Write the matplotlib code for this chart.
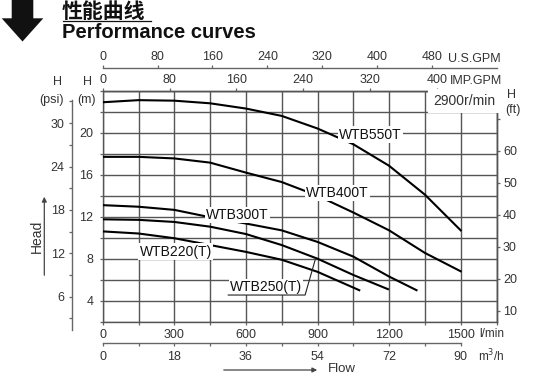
#!/usr/bin/env python3
"""Pump performance curves (WTB series, 2900 r/min)."""

import matplotlib

matplotlib.use("Agg")
import matplotlib.pyplot as plt
from matplotlib.patches import Polygon
from matplotlib.ticker import MultipleLocator, FixedLocator, NullFormatter

plt.rcParams.update(
    {
        "font.family": ["Liberation Sans", "DejaVu Sans"],
        "font.size": 9,
        "axes.linewidth": 1.0,
    }
)

W, H = 554, 376
GRID = "#555555"
TXT = "#333333"
AXL = "#666666"

# flow in l/min, head in m
q_550 = [0, 150, 300, 450, 600, 750, 900, 1050, 1200, 1350, 1500]
h_550 = [22.9, 23.1, 23.05, 22.8, 22.3, 21.6, 20.4, 18.9, 16.85, 14.1, 10.7]

q_400 = [0, 150, 300, 450, 600, 750, 900, 1050, 1200, 1350, 1500]
h_400 = [17.7, 17.7, 17.55, 17.15, 16.2, 15.3, 14.0, 12.4, 10.7, 8.55, 6.8]

q_300 = [0, 150, 300, 450, 600, 750, 900, 1050, 1200, 1315]
h_300 = [13.1, 12.95, 12.65, 11.95, 11.35, 10.7, 9.6, 8.2, 6.3, 5.0]

q_250 = [0, 150, 300, 450, 600, 750, 900, 1050, 1195]
h_250 = [11.75, 11.7, 11.5, 11.05, 10.35, 9.3, 8.0, 6.45, 5.1]

q_220 = [0, 150, 300, 450, 600, 750, 900, 1075]
h_220 = [10.6, 10.4, 9.95, 9.3, 8.65, 7.9, 6.75, 5.0]

curves = [
    (q_550, h_550, "WTB550T", (990, 19.8)),
    (q_400, h_400, "WTB400T", (852, 14.26)),
    (q_300, h_300, "WTB300T", (434, 12.16)),
    (q_220, h_220, "WTB220(T)", (154, 8.67)),
]

flow_ticks = [0, 300, 600, 900, 1200, 1500]
m_ticks = [4, 8, 12, 16, 20]
imp_ticks = [0, 80, 160, 240, 320, 400]
us_ticks = [0, 80, 160, 240, 320, 400, 480]
m3h_ticks = [0, 18, 36, 54, 72, 90]
psi_ticks = [6, 12, 18, 24, 30]
ft_ticks = [10, 20, 30, 40, 50, 60, 70]
ft_labels = ["10", "20", "30", "40", "50", "60", ""]


def px(x, y):
    return x / W, 1 - y / H


def style_ticks(axis, length=2.2, pad=2.5):
    axis.set_tick_params(which="both", direction="out", length=length, width=0.9,
                         color=AXL, labelcolor=TXT, labelsize=9, pad=pad)


def main():
    fig = plt.figure(figsize=(W / 100, H / 100), dpi=100)
    ax = fig.add_axes([102.7 / W, 1 - 321.7 / H, (496.5 - 102.7) / W, (321.7 - 90.7) / H])

    ax.set_xlim(0, 1650)
    ax.set_ylim(2, 24)
    ax.xaxis.set_major_locator(FixedLocator(flow_ticks))
    ax.xaxis.set_minor_locator(MultipleLocator(150))
    ax.yaxis.set_major_locator(FixedLocator(m_ticks))
    ax.yaxis.set_minor_locator(MultipleLocator(2))
    ax.grid(True, which="both", color=GRID, linewidth=1.0)
    ax.set_axisbelow(True)
    for sp in ax.spines.values():
        sp.set_color(GRID)
    ax.tick_params(top=False, right=False)
    style_ticks(ax.xaxis, pad=3.2)
    style_ticks(ax.yaxis, pad=4.5)

    for q, h, name, (lx, ly) in curves:
        ax.plot(q, h, color="black", linewidth=1.5, zorder=3)
        ax.text(lx, ly, name, fontsize=10, va="center", ha="left", color="#111111", zorder=4,
                bbox=dict(facecolor="white", edgecolor="none", pad=1.0))
    ax.plot(q_250, h_250, color="black", linewidth=1.5, zorder=3)
    ax.text(533, 5.3, "WTB250(T)", fontsize=10, va="center", ha="left", color="#111111",
            zorder=4, bbox=dict(facecolor="white", edgecolor="none", pad=1.0))
    ax.plot([526, 848, 890], [4.54, 4.54, 7.87], color="#222222", linewidth=0.8, zorder=4)

    ax.text(1645, 23.0, "2900r/min", fontsize=10, va="center", ha="right", color=TXT,
            zorder=4, bbox=dict(facecolor="white", edgecolor="none", pad=3.5))

    # top axes: IMP.GPM on the frame, U.S.GPM above it
    imp = ax.secondary_xaxis("top", functions=(lambda q: q / 3.5, lambda g: g * 3.5))
    imp.set_xticks(imp_ticks)
    style_ticks(imp.xaxis, pad=1.5)
    imp.spines["top"].set_color(GRID)

    us = ax.secondary_xaxis(1.097, functions=(lambda q: q / 2.874, lambda g: g * 2.874))
    us.set_xticks(us_ticks)
    style_ticks(us.xaxis, pad=1.5)
    us.spines["top"].set_color(AXL)

    # bottom m3/h axis
    m3 = ax.secondary_xaxis(-0.0935, functions=(lambda q: q / 16.667, lambda m: m * 16.667))
    m3.xaxis.set_major_locator(FixedLocator(m3h_ticks))
    m3.xaxis.set_minor_locator(FixedLocator([9, 27, 45, 63, 81]))
    style_ticks(m3.xaxis, pad=3.5)
    m3.spines["bottom"].set_color(AXL)
    m3.spines["bottom"].set_bounds(0, 90)

    # psi on the far left, ft on the right frame
    psi = ax.secondary_yaxis(-0.0787, functions=(lambda m: (m - 0.26) * 1.453,
                                                 lambda p: p / 1.453 + 0.26))
    psi.yaxis.set_major_locator(FixedLocator(psi_ticks))
    psi.yaxis.set_minor_locator(FixedLocator([3, 9, 15, 21, 27, 33]))
    psi.yaxis.set_minor_formatter(NullFormatter())
    style_ticks(psi.yaxis, length=2.5, pad=2.5)
    psi.spines["left"].set_color(AXL)
    psi.spines["left"].set_bounds(1.4, 33.2)

    ft = ax.secondary_yaxis("right", functions=(lambda m: m * 3.2808, lambda f: f / 3.2808))
    ft.set_yticks(ft_ticks, ft_labels)
    style_ticks(ft.yaxis, pad=2.5)
    ft.spines["right"].set_color(GRID)

    # unit labels
    def ftext(x, y, s, **kw):
        kw.setdefault("color", TXT)
        kw.setdefault("fontsize", 9)
        fig.text(*px(x, y), s, va="center", **kw)

    ftext(448, 58.5, "U.S.GPM")
    ftext(450, 81, "IMP.GPM")
    ftext(479, 334, "l/min", fontsize=8.5)
    ftext(478, 356, "m$^3$/h", fontsize=8.5)
    ftext(87, 82, "H", ha="center")
    ftext(87, 100, "(m)", ha="center")
    ftext(57, 82, "H", ha="center")
    ftext(52, 100, "(psi)", ha="center")
    ftext(511, 95, "H", ha="center")
    ftext(513, 110, "(ft)", ha="center")
    ftext(36.5, 236, "Head", ha="center", rotation=90, fontsize=10)
    ftext(328, 369, "Flow", ha="left", fontsize=9.5)

    arrow = dict(arrowstyle="-|>", color="#444444", lw=0.9, mutation_scale=7)
    ax.annotate("", xy=px(44.3, 194), xytext=px(44.3, 278), xycoords="figure fraction",
                textcoords="figure fraction", arrowprops=arrow, annotation_clip=False)
    ax.annotate("", xy=px(320, 370), xytext=px(221, 370), xycoords="figure fraction",
                textcoords="figure fraction", arrowprops=arrow, annotation_clip=False)

    # header
    icon = [(11.7, 0), (33.3, 0), (33.3, 18.3), (43.3, 18.3), (22.5, 41.5),
            (1.7, 18.3), (11.7, 18.3)]
    fig.patches.append(Polygon([px(x, y) for x, y in icon], closed=True,
                               facecolor="#111111", edgecolor="none",
                               transform=fig.transFigure, figure=fig))
    fig.text(*px(62, 12), "性能曲线", family=["Noto Sans CJK SC", "DejaVu Sans"],
             fontweight="bold", fontsize=15, va="center", ha="left", color="#111111")
    fig.add_artist(plt.Line2D([63 / W, 151 / W], [1 - 20.8 / H] * 2, color="#111111",
                              linewidth=0.9, transform=fig.transFigure))
    fig.text(*px(62, 32), "Performance curves", fontweight="bold", fontsize=14.5,
             va="center", ha="left", color="#111111")

    fig.savefig("out.png", dpi=100)


if __name__ == "__main__":
    main()
